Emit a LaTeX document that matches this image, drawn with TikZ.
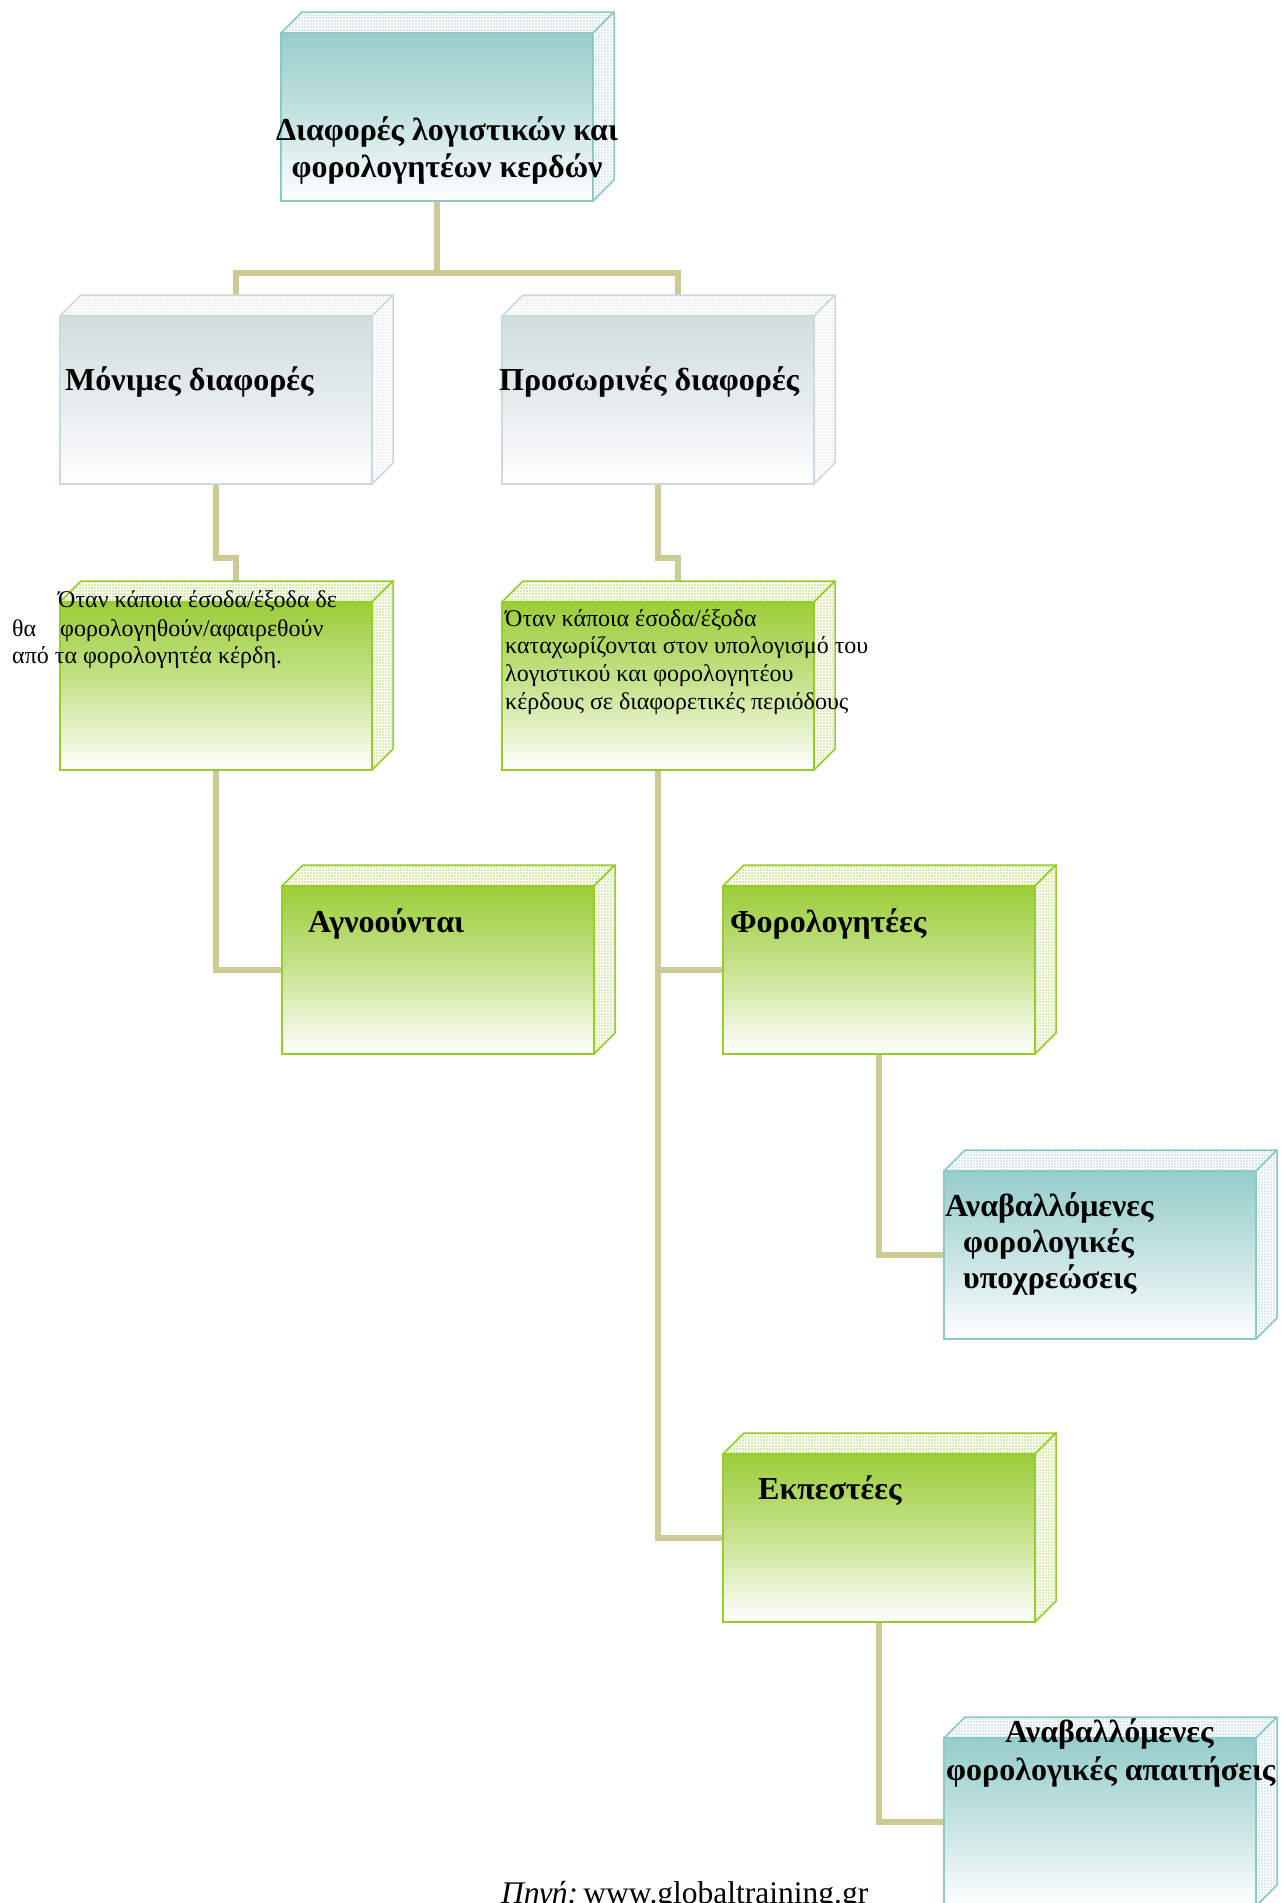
\documentclass[tikz,border=0pt]{standalone}
\usepackage{fontspec}
\setmainfont{Liberation Serif}
\usetikzlibrary{patterns}
\definecolor{tealc}{RGB}{150,205,202}
\definecolor{tealb}{RGB}{140,200,198}
\definecolor{greyc}{RGB}{208,221,223}
\definecolor{greyb}{RGB}{205,218,220}
\definecolor{greenc}{RGB}{155,205,55}
\definecolor{greenb}{RGB}{150,205,40}
\definecolor{linkc}{RGB}{204,203,150}
\tikzset{
  front/.style={rectangle, inner sep=0pt, outer sep=0pt, minimum width=312pt, minimum height=168pt, line width=2pt},
  link/.style={draw=linkc, line width=6pt},
  head/.style={font=\fontsize{32}{37}\selectfont\bfseries, inner sep=0pt},
  body/.style={font=\fontsize{24}{28}\selectfont, inner sep=0pt},
  face/.style={line width=1.5pt, line join=round},
}
\newcommand\cubebox[4]{%
  \node[front, draw=#4, top color=#3, bottom color=white, middle color=#3!55!white] (#1) at (#2) {};
  \path[face, fill=#3!40!white] (#1.north west) -- ([shift={(21,-21)}]#1.north west) -- ([shift={(21,-21)}]#1.north east) -- (#1.north east) -- cycle;
  \path[pattern=grid, pattern color=white] (#1.north west) -- ([shift={(21,-21)}]#1.north west) -- ([shift={(21,-21)}]#1.north east) -- (#1.north east) -- cycle;
  \path[face, draw=#4] (#1.north west) -- ([shift={(21,-21)}]#1.north west) -- ([shift={(21,-21)}]#1.north east) -- (#1.north east);
  \path[face, fill=#3!35!white] (#1.north east) -- ([shift={(21,-21)}]#1.north east) -- ([shift={(21,-21)}]#1.south east) -- (#1.south east) -- cycle;
  \path[pattern=grid, pattern color=white] (#1.north east) -- ([shift={(21,-21)}]#1.north east) -- ([shift={(21,-21)}]#1.south east) -- (#1.south east) -- cycle;
  \path[face, draw=#4] (#1.north east) -- ([shift={(21,-21)}]#1.north east) -- ([shift={(21,-21)}]#1.south east) -- (#1.south east);
  \draw[line width=2pt, draw=#4] (#1.north west) rectangle (#1.south east);
}
\begin{document}
\begin{tikzpicture}[x=1pt, y=-1pt]
\fill[white] (0,0) rectangle (1280,1903);
\useasboundingbox (0,0) rectangle (1280,1903);
% placement of box anchors for connectors
\node[front] (b1) at (437,117) {};
\node[front] (b2) at (216,400) {};
\node[front] (b3) at (658,400) {};
\node[front] (b4) at (216,686) {};
\node[front] (b5) at (658,686) {};
\node[front] (b6) at (438,970) {};
\node[front] (b7) at (879,970) {};
\node[front] (b8) at (1100,1255) {};
\node[front] (b9) at (879,1538) {};
\node[front] (b10) at (1100,1822) {};
% connectors
\draw[link] (b1.south) -- ++(0,72) coordinate (j1) -| ([shift={(20,-20)}]b2.north);
\draw[link] (j1) -| ([shift={(20,-20)}]b3.north);
\draw[link] (b2.south) -- ++(0,74) -| ([shift={(20,-20)}]b4.north);
\draw[link] (b3.south) -- ++(0,74) -| ([shift={(20,-20)}]b5.north);
\draw[link] (b4.south) |- (b6.west);
\draw[link] (b5.south) |- (b7.west);
\draw[link] (b5.south) |- (b9.west);
\draw[link] (b7.south) |- (b8.west);
\draw[link] (b9.south) |- (b10.west);
% boxes
\cubebox{b1}{437,117}{tealc}{tealb}
\cubebox{b2}{216,400}{greyc}{greyb}
\cubebox{b3}{658,400}{greyc}{greyb}
\cubebox{b4}{216,686}{greenc}{greenb}
\cubebox{b5}{658,686}{greenc}{greenb}
\cubebox{b6}{438,970}{greenc}{greenb}
\cubebox{b7}{879,970}{greenc}{greenb}
\cubebox{b8}{1100,1255}{tealc}{tealb}
\cubebox{b9}{879,1538}{greenc}{greenb}
\cubebox{b10}{1100,1822}{tealc}{tealb}
% texts
\node[head, anchor=base] (t1a) at (447,140) {Διαφορές λογιστικών και};
\node[head, anchor=base] (t1b) at (447,177) {φορολογητέων κερδών};
\node[head, anchor=base west] (t2) at (65,390) {Μόνιμες διαφορές};
\node[head, anchor=base west] (t3) at (499,390) {Προσωρινές διαφορές};
\node[body, anchor=base west] (t4a) at (58,607) {Όταν κάποια έσοδα/έξοδα δε};
\node[body, anchor=base west] (t4b) at (12,636) {θα};
\node[body, anchor=base west] (t4c) at (60,636) {φορολογηθούν/αφαιρεθούν};
\node[body, anchor=base west] (t4d) at (12,663) {από τα φορολογητέα κέρδη.};
\node[body, anchor=base west] (t5a) at (505,626) {Όταν κάποια έσοδα/έξοδα};
\node[body, anchor=base west] (t5b) at (505,653) {καταχωρίζονται στον υπολογισμό του};
\node[body, anchor=base west] (t5c) at (505,681) {λογιστικού και φορολογητέου};
\node[body, anchor=base west] (t5d) at (505,709) {κέρδους σε διαφορετικές περιόδους};
\node[head, anchor=base west] (t6) at (308,932) {Αγνοούνται};
\node[head, anchor=base west] (t7) at (730,932) {Φορολογητέες};
\node[head, anchor=base west] (t8a) at (945,1216) {Αναβαλλόμενες};
\node[head, anchor=base west] (t8b) at (963,1252) {φορολογικές};
\node[head, anchor=base west] (t8c) at (963,1288) {υποχρεώσεις};
\node[head, anchor=base west] (t9) at (758,1499) {Εκπεστέες};
\node[head, anchor=base west] (t10a) at (1005,1742) {Αναβαλλόμενες};
\node[head, anchor=base west] (t10b) at (946,1780) {φορολογικές απαιτήσεις};
\node[font=\fontsize{31.5}{36}\selectfont, anchor=base west, inner sep=0pt] (src) at (501,1903) {\textit{Πηγή:}\,www.globaltraining.gr};
\end{tikzpicture}
\end{document}
